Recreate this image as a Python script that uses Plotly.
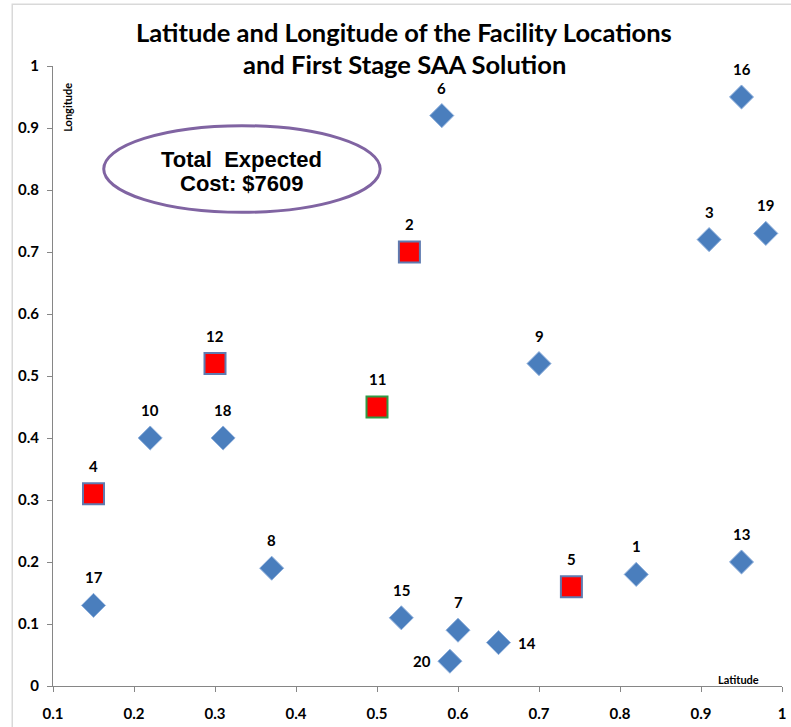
import plotly.graph_objects as go

# ---- data ----
facility_ids = [1, 2, 3, 4, 5, 6, 7, 8, 9, 10, 11, 12, 13, 14, 15, 16, 17, 18, 19, 20]
latitude = [0.82, 0.54, 0.91, 0.15, 0.74, 0.58, 0.60, 0.37, 0.70, 0.22,
            0.50, 0.30, 0.95, 0.65, 0.53, 0.95, 0.15, 0.31, 0.98, 0.59]
longitude = [0.18, 0.70, 0.72, 0.31, 0.16, 0.92, 0.09, 0.19, 0.52, 0.40,
             0.45, 0.52, 0.20, 0.07, 0.11, 0.95, 0.13, 0.40, 0.73, 0.04]
selected_ids = [2, 4, 5, 11, 12]
label_side = {14: "right", 20: "left"}
x_ticks = [0.1, 0.2, 0.3, 0.4, 0.5, 0.6, 0.7, 0.8, 0.9, 1.0]
x_tick_labels = ["0.1", "0.2", "0.3", "0.4", "0.5", "0.6", "0.7", "0.8", "0.9", "1"]
y_ticks = [0, 0.1, 0.2, 0.3, 0.4, 0.5, 0.6, 0.7, 0.8, 0.9, 1.0]
y_tick_labels = ["0", "0.1", "0.2", "0.3", "0.4", "0.5", "0.6", "0.7", "0.8", "0.9", "1"]
title_lines = ["Latitude and Longitude of the Facility Locations", "and First Stage SAA Solution"]
cost_lines = ["Total  Expected", "Cost: $7609"]

LABEL_FONT = "Lato, 'Open Sans', sans-serif"
ARIAL = "'Liberation Sans', Arial, sans-serif"
AXIS_COLOR = "#868686"

fig = go.Figure()

# regular facilities: diamonds
d_x = [x for i, x in zip(facility_ids, latitude) if i not in selected_ids]
d_y = [y for i, y in zip(facility_ids, longitude) if i not in selected_ids]
fig.add_trace(go.Scatter(
    x=d_x, y=d_y, mode="markers", showlegend=False, hoverinfo="x+y",
    marker=dict(symbol="diamond", size=18.5, color="#4a7ebd",
                line=dict(color="#8fb0dc", width=1)),
))

# selected facilities: red squares
s_x = [x for i, x in zip(facility_ids, latitude) if i in selected_ids]
s_y = [y for i, y in zip(facility_ids, longitude) if i in selected_ids]
s_line = ["#2f9a45" if i == 11 else "#5f7bb0" for i in facility_ids if i in selected_ids]
fig.add_trace(go.Scatter(
    x=s_x, y=s_y, mode="markers", showlegend=False, hoverinfo="x+y",
    marker=dict(symbol="square", size=21, color="#ff0000",
                line=dict(color=s_line, width=2)),
))

annotations = []
for i, x, y in zip(facility_ids, latitude, longitude):
    side = label_side.get(i, "top")
    xs, ys = 0, 28
    if side == "right":
        xs, ys = 28, 0
    elif side == "left":
        xs, ys = -28, 0
    annotations.append(dict(x=x, y=y, xref="x", yref="y", text=str(i), showarrow=False,
                            xshift=xs, yshift=ys,
                            font=dict(family=LABEL_FONT, size=15, color="#000000", weight="bold")))

# title
annotations.append(dict(x=0.4816, y=1.0554, xref="paper", yref="paper", text=title_lines[0],
                        showarrow=False, xanchor="center", yanchor="middle",
                        font=dict(family=LABEL_FONT, size=25.5, color="#000000", weight="bold")))
annotations.append(dict(x=0.4816, y=1.004, xref="paper", yref="paper", text=title_lines[1],
                        showarrow=False, xanchor="center", yanchor="middle",
                        font=dict(family=LABEL_FONT, size=25.5, color="#000000", weight="bold")))
# cost text
annotations.append(dict(x=0.2592, y=0.849, xref="paper", yref="paper", text=cost_lines[0],
                        showarrow=False, xanchor="center", yanchor="middle",
                        font=dict(family=ARIAL, size=22, color="#000000", weight="bold")))
annotations.append(dict(x=0.2592, y=0.8106, xref="paper", yref="paper", text=cost_lines[1],
                        showarrow=False, xanchor="center", yanchor="middle",
                        font=dict(family=ARIAL, size=22, color="#000000", weight="bold")))
# axis titles
annotations.append(dict(x=0.0205, y=0.934, xref="paper", yref="paper", text="Longitude",
                        showarrow=False, textangle=-90, xanchor="center", yanchor="middle",
                        font=dict(family=LABEL_FONT, size=11, color="#000000", weight="bold")))
annotations.append(dict(x=0.941, y=0.011, xref="paper", yref="paper", text="Latitude",
                        showarrow=False, xanchor="center", yanchor="middle",
                        font=dict(family=LABEL_FONT, size=11, color="#000000", weight="bold")))

shapes = [
    # ellipse around cost text
    dict(type="circle", xref="paper", yref="paper", x0=0.0696, x1=0.4488, y0=0.764, y1=0.9037,
         line=dict(color="#8064a2", width=3), fillcolor="rgba(0,0,0,0)", layer="below"),
    # chart-area frame
    dict(type="rect", xref="paper", yref="paper", x0=-0.0559, x1=1.2, y0=-0.2, y1=1.0995,
         line=dict(color="#d9d9d9", width=1.5), fillcolor="rgba(0,0,0,0)", layer="below"),
]

fig.update_layout(
    width=791, height=727,
    margin=dict(l=53, r=5, t=66, b=38),
    paper_bgcolor="white", plot_bgcolor="white",
    annotations=annotations, shapes=shapes,
    xaxis=dict(range=[0.1, 1.0], tickvals=x_ticks, ticktext=x_tick_labels,
               showgrid=False, zeroline=False, showline=True, linecolor=AXIS_COLOR, linewidth=1,
               ticks="outside", ticklen=5, tickcolor=AXIS_COLOR, ticklabelstandoff=9,
               tickfont=dict(family=LABEL_FONT, size=15, color="#000000", weight="bold")),
    yaxis=dict(range=[0, 1.0], tickvals=y_ticks, ticktext=y_tick_labels,
               showgrid=False, zeroline=False, showline=True, linecolor=AXIS_COLOR, linewidth=1,
               ticks="outside", ticklen=5, tickcolor=AXIS_COLOR, ticklabelstandoff=5,
               tickfont=dict(family=LABEL_FONT, size=15, color="#000000", weight="bold")),
)

fig.write_html("out.html")
